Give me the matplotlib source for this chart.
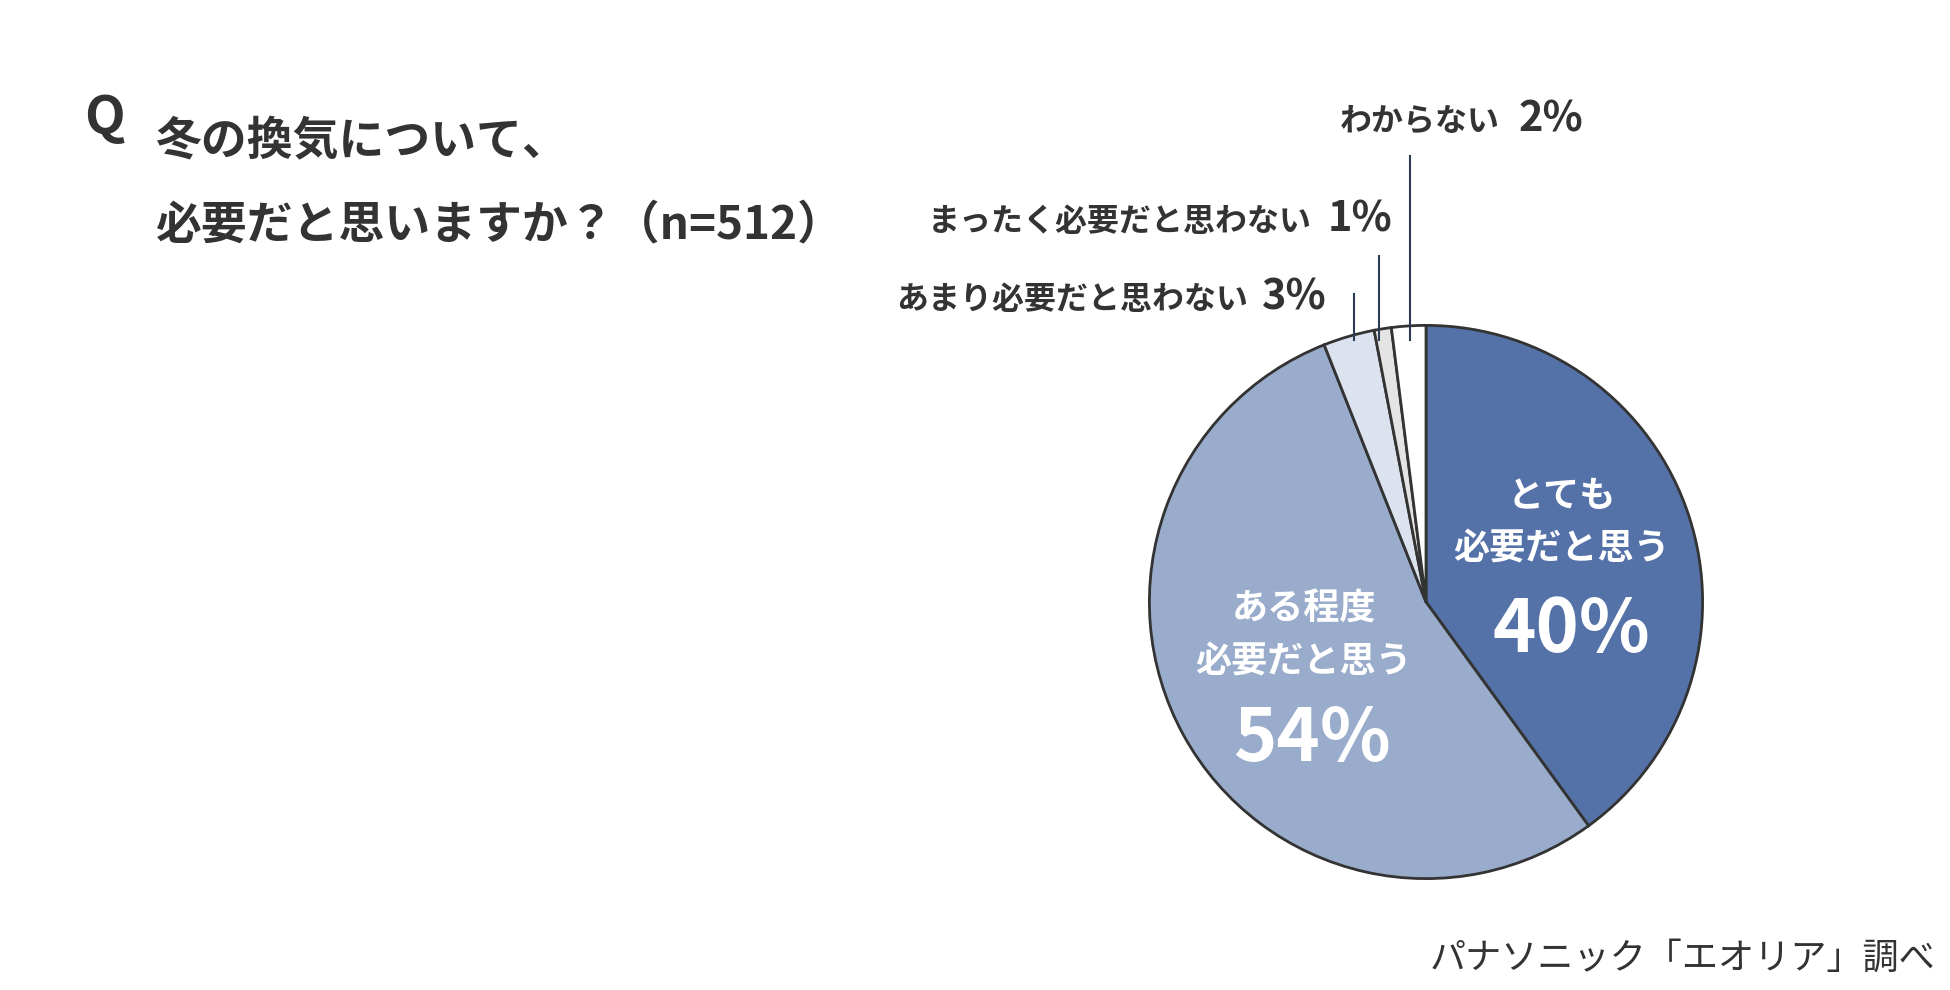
import matplotlib
matplotlib.use("Agg")
import matplotlib.pyplot as plt

plt.rcParams['font.family'] = ['Noto Sans CJK JP', 'DejaVu Sans']

categories = ["とても必要だと思う", "ある程度必要だと思う", "あまり必要だと思わない", "まったく必要だと思わない", "わからない"]
values = [40, 54, 3, 1, 2]
colors = ["#5472a8", "#99accb", "#dce3ef", "#e4e4e4", "#ffffff"]

W, H = 1950, 990
fig = plt.figure(figsize=(19.5, 9.9), dpi=100)

def fx(x): return x / W
def fy(y): return 1 - y / H

cx, cy, r = 1426, 602, 278
ax = fig.add_axes([fx(cx - r), fy(cy + r), 2 * r / W, 2 * r / H])
ax.pie(values, colors=colors, startangle=90, counterclock=False,
       wedgeprops=dict(edgecolor="#333333", linewidth=2))
ax.set_xlim(-1.005, 1.005)
ax.set_ylim(-1.005, 1.005)
ax.set_aspect('equal')

dark = "#333333"
fig.text(fx(84), fy(119), "Q", fontsize=38, fontweight='bold', color=dark, va='center')
fig.text(fx(155), fy(142), "冬の換気について、", fontsize=33, fontweight='bold', color=dark, va='center')
fig.text(fx(155), fy(225), "必要だと思いますか？（n=512）", fontsize=33, fontweight='bold', color=dark, va='center')

# outside labels
outs = [("あまり必要だと思わない", "3%", 1248, 1262, 300),
        ("まったく必要だと思わない", "1%", 1312, 1328, 222),
        ("わからない", "2%", 1500, 1519, 121)]
for lab, pct, xe, xp, y in outs:
    fig.text(fx(xe), fy(y), lab, fontsize=23, fontweight='bold', color=dark, ha='right', va='center')
    fig.text(fx(xp), fy(y - 2), pct, fontsize=30, fontweight='bold', color=dark, ha='left', va='center')

line_c = "#2b3a55"
for x, y0 in [(1354, 294), (1379, 256), (1410, 156)]:
    fig.add_artist(plt.Line2D([fx(x), fx(x)], [fy(y0), fy(340)], color=line_c, lw=1.5))

fig.text(fx(1562), fy(522), "とても\n必要だと思う", fontsize=26, fontweight='bold', color='white',
         ha='center', va='center', linespacing=1.5)
fig.text(fx(1571), fy(631), "40%", fontsize=53, fontweight='bold', color='white', ha='center', va='center')
fig.text(fx(1304), fy(635), "ある程度\n必要だと思う", fontsize=26, fontweight='bold', color='white',
         ha='center', va='center', linespacing=1.5)
fig.text(fx(1312), fy(740), "54%", fontsize=53, fontweight='bold', color='white', ha='center', va='center')

fig.text(fx(1935), fy(959), "パナソニック「エオリア」調べ", fontsize=26, color=dark, ha='right', va='center')

fig.savefig("out.png", dpi=100, facecolor='white')
